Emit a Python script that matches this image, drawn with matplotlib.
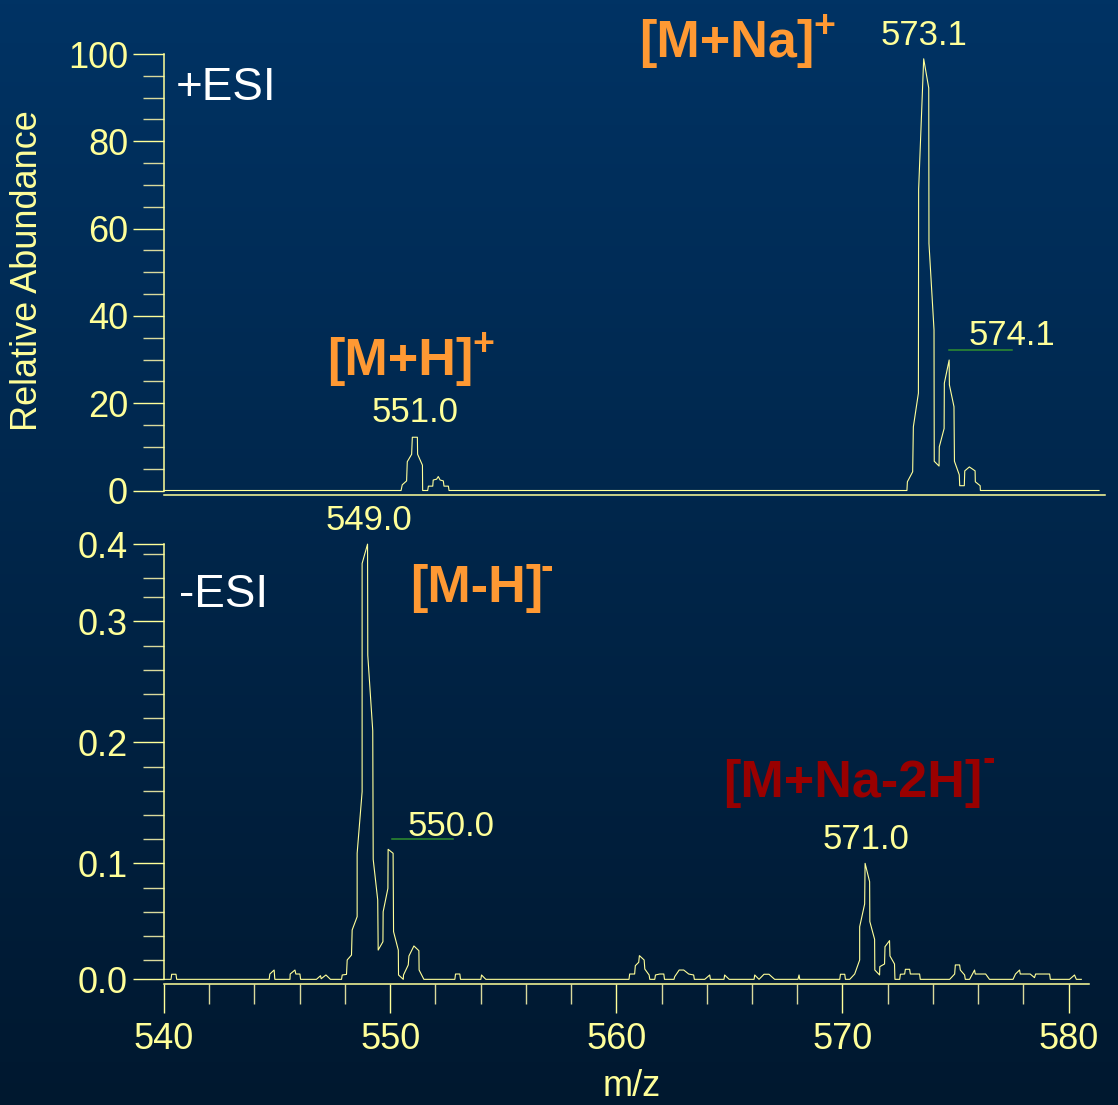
import numpy as np
import matplotlib
matplotlib.use("Agg")
import matplotlib.pyplot as plt
from matplotlib.ticker import FixedLocator, MultipleLocator
from matplotlib.lines import Line2D

# ---------------- data ----------------
# +ESI profile spectrum (m/z, relative abundance %)
pos_mz = [540.00, 550.33, 550.38, 550.57, 550.60, 550.79, 550.82, 551.04, 551.05,
          551.26, 551.27, 551.49, 551.52, 551.71, 551.73, 551.88, 551.95, 552.03,
          552.17, 552.20, 552.39, 552.42,
          572.37, 572.39, 572.62, 572.65, 572.87, 572.88, 573.10, 573.32, 573.33,
          573.55, 573.56, 573.77, 573.78, 573.99, 574.00, 574.21, 574.22, 574.42,
          574.44, 574.65, 574.67, 574.87, 574.89, 575.09, 575.34, 575.35, 575.56,
          575.57, 580.74]
pos_int = [0.0, 0.0, 1.3, 2.2, 6.6, 8.3, 12.2, 12.2, 8.3,
           5.8, 0.0, 0.0, 1.0, 1.0, 2.4, 2.6, 3.2, 2.4,
           2.2, 1.0, 1.0, 0.0,
           0.0, 2.0, 4.3, 14.6, 22.3, 69.0, 98.9, 92.2, 56.6,
           36.8, 6.7, 5.6, 10.0, 14.2, 24.6, 29.9, 24.2, 19.2,
           6.7, 3.6, 1.1, 1.1, 4.5, 5.4, 4.5, 2.0, 1.1,
           0.0, 0.0]

# -ESI profile spectrum (m/z, relative abundance)
neg_mz = [540.00, 540.31, 540.34, 540.53, 540.56,
          544.65, 544.68, 544.87, 544.90,
          545.57, 545.58, 545.79, 545.83, 546.01, 546.04,
          546.74, 546.92, 546.95, 547.16, 547.36,
          547.85, 547.88, 548.07, 548.10, 548.29, 548.32, 548.54, 548.54, 548.76,
          548.76, 549.00, 549.01, 549.23, 549.25, 549.45, 549.47, 549.68, 549.69,
          549.90, 549.91, 550.13, 550.15, 550.36, 550.37, 550.58, 550.59, 550.80,
          550.83, 551.05, 551.27, 551.28, 551.49,
          552.86, 552.89, 553.08, 553.11,
          554.01, 554.04, 554.23,
          560.56, 560.59, 560.81, 560.84, 560.99, 561.02, 561.23, 561.26, 561.45,
          561.48, 561.70, 561.73, 561.92, 562.10, 562.13,
          562.55, 562.58, 562.78, 562.98, 563.20, 563.42, 563.45,
          563.91, 564.13, 564.16,
          564.76, 564.79, 564.99,
          566.09, 566.12, 566.31, 566.53, 566.75, 567.00,
          568.03, 568.08, 568.11,
          569.88, 569.91, 570.10, 570.13, 570.32, 570.54, 570.76, 570.76, 570.98,
          571.00, 571.20, 571.21, 571.42, 571.43, 571.64, 571.65, 571.86, 571.88,
          572.08, 572.10, 572.30, 572.32,
          572.53, 572.56, 572.75, 572.78, 572.97, 573.00, 573.41, 573.44,
          574.74, 574.96, 574.99, 575.18, 575.21, 575.40, 575.43,
          575.62, 575.84, 575.87, 576.33, 576.50,
          577.54, 577.65, 577.83, 577.86, 578.30, 578.49, 578.54, 579.16, 579.19,
          580.04, 580.26, 580.34, 580.56]
neg_int = [0.0041, 0.0041, 0.0083, 0.0083, 0.0041,
           0.0041, 0.0085, 0.0118, 0.0041,
           0.0041, 0.0085, 0.0118, 0.0085, 0.0085, 0.0041,
           0.0041, 0.0071, 0.0046, 0.0077, 0.0041,
           0.0041, 0.0077, 0.0082, 0.0201, 0.0242, 0.0449, 0.0559, 0.1083, 0.1592,
           0.3479, 0.3639, 0.2721, 0.2096, 0.1033, 0.0697, 0.0283, 0.0352, 0.0600,
           0.0793, 0.1116, 0.1083, 0.0435, 0.0283, 0.0077, 0.0041, 0.0077, 0.0160,
           0.0234, 0.0317, 0.0278, 0.0118, 0.0041,
           0.0041, 0.0085, 0.0085, 0.0041,
           0.0041, 0.0077, 0.0041,
           0.0041, 0.0085, 0.0085, 0.0154, 0.0182, 0.0237, 0.0201, 0.0126, 0.0077,
           0.0041, 0.0041, 0.0077, 0.0085, 0.0085, 0.0041,
           0.0041, 0.0063, 0.0118, 0.0118, 0.0085, 0.0077, 0.0041,
           0.0041, 0.0077, 0.0041,
           0.0041, 0.0077, 0.0041,
           0.0041, 0.0077, 0.0041, 0.0083, 0.0083, 0.0041,
           0.0041, 0.0077, 0.0041,
           0.0041, 0.0083, 0.0083, 0.0041, 0.0041, 0.0085, 0.0201, 0.0476, 0.0664,
           0.1000, 0.0848, 0.0518, 0.0372, 0.0118, 0.0077, 0.0146, 0.0168, 0.0311,
           0.0361, 0.0234, 0.0168, 0.0041,
           0.0041, 0.0083, 0.0085, 0.0124, 0.0124, 0.0085, 0.0085, 0.0041,
           0.0041, 0.0085, 0.0160, 0.0160, 0.0118, 0.0077, 0.0041,
           0.0041, 0.0118, 0.0085, 0.0085, 0.0041,
           0.0041, 0.0085, 0.0118, 0.0085, 0.0085, 0.0055, 0.0085, 0.0085, 0.0041,
           0.0041, 0.0077, 0.0041, 0.0041]

# axis ticks
pos_yticks = [0, 20, 40, 60, 80, 100]
neg_yticks = [0.0041, 0.1, 0.2, 0.3, 0.364]
neg_yticklabels = ["0.0", "0.1", "0.2", "0.3", "0.4"]
neg_yminor = [0.02, 0.04, 0.06, 0.08, 0.12, 0.14, 0.16, 0.18, 0.22, 0.24,
              0.26, 0.28, 0.32, 0.336, 0.356]
mz_ticks = [540, 550, 560, 570, 580]

# peak labels: (text, x px, baseline y px)
peak_labels = [("573.1", 924, 45), ("574.1", 1012, 345), ("551.0", 415, 422),
               ("549.0", 369, 530), ("550.0", 451, 836), ("571.0", 866, 849)]

# ---------------- styling ----------------
W, H = 1118, 1105
YEL = "#ffff99"
YEL_MINOR = "#d9d99c"
ORANGE = "#ff9933"
DARKRED = "#990000"
GREEN = "#2f8f2f"

plt.rcParams["font.family"] = ["Liberation Sans", "DejaVu Sans"]

fig = plt.figure(figsize=(W / 100, H / 100), dpi=100)

# vertical background gradient
bg = fig.add_axes([0, 0, 1, 1], zorder=-10)
top_c = np.array([0, 51, 100]) / 255
bot_c = np.array([0, 24, 47]) / 255
t = np.linspace(0, 1, 256)[:, None]
grad = top_c[None, :] * (1 - t) + bot_c[None, :] * t
bg.imshow(grad[:, None, :], aspect="auto", extent=[0, 1, 0, 1])
bg.set_axis_off()


def rect(l, t_, r, b):
    return [l / W, 1 - b / H, (r - l) / W, (b - t_) / H]


def fxy(px, py):
    return px / W, 1 - py / H


ax1 = fig.add_axes(rect(164, 54, 1105, 495))
ax2 = fig.add_axes(rect(164, 544, 1089, 984.3))

for ax in (ax1, ax2):
    ax.set_facecolor("none")
    ax.spines["top"].set_visible(False)
    ax.spines["right"].set_visible(False)
    for s in ("left", "bottom"):
        ax.spines[s].set_color(YEL)
        ax.spines[s].set_linewidth(1.1)
    ax.tick_params(axis="y", which="major", length=22.3, width=1.0, color=YEL,
                   labelcolor=YEL, labelsize=26, pad=3.6)
    ax.tick_params(axis="y", which="minor", length=15, width=1.0, color=YEL_MINOR)

# +ESI panel
ax1.plot(pos_mz, pos_int, color=YEL, lw=0.8, clip_on=False)
ax1.set_xlim(540, 581)
ax1.set_ylim(-1.03, 100)
ax1.spines["left"].set_bounds(0, 100)
ax1.yaxis.set_major_locator(FixedLocator(pos_yticks))
ax1.yaxis.set_minor_locator(MultipleLocator(5))
ax1.tick_params(axis="x", which="both", bottom=False, labelbottom=False)

# -ESI panel
ax2.plot(neg_mz, neg_int, color=YEL, lw=0.8, clip_on=False)
ax2.set_xlim(540, 580.9)
ax2.set_ylim(0, 0.364)
ax2.spines["left"].set_bounds(0.0041, 0.364)
ax2.yaxis.set_major_locator(FixedLocator(neg_yticks))
ax2.set_yticklabels(neg_yticklabels)
ax2.yaxis.set_minor_locator(FixedLocator(neg_yminor))
ax2.xaxis.set_major_locator(FixedLocator(mz_ticks))
ax2.xaxis.set_minor_locator(MultipleLocator(2))
ax2.tick_params(axis="x", which="major", length=20.9, width=1.0, color=YEL,
                labelcolor=YEL, labelsize=26, pad=6.5)
ax2.tick_params(axis="x", which="minor", length=14.4, width=1.0, color=YEL_MINOR)

# axis titles
x, y = fxy(28, 271)
fig.text(x, y, "Relative Abundance", rotation=90, ha="center", va="center",
         color=YEL, fontsize=26)
x, y = fxy(632, 1104)
fig.text(x, y, "m/z", ha="center", va="bottom", color=YEL, fontsize=26)

# ionisation mode labels
x, y = fxy(176, 100)
fig.text(x, y, "+ESI", ha="left", va="baseline", color="white", fontsize=33)
x, y = fxy(179, 607)
fig.text(x, y, "-ESI", ha="left", va="baseline", color="white", fontsize=33)

# peak m/z labels
for txt, px, py in peak_labels:
    x, y = fxy(px, py)
    fig.text(x, y, txt, ha="center", va="baseline", color=YEL, fontsize=25)

# underline marks next to isotope labels
for (x0, x1, yy) in [(949, 1012, 350), (392, 453, 839)]:
    a, b = fxy(x0, yy)
    c, _ = fxy(x1, yy)
    fig.add_artist(Line2D([a, c], [b, b], color=GREEN, lw=1.1,
                          transform=fig.transFigure))

# ion assignments
ions = [("[M+Na]", "+", 639, 57, 813, 37, ORANGE),
        ("[M+H]", "+", 327, 375, 472, 355, ORANGE),
        ("[M-H]", "-", 410, 602, 541, 579, ORANGE),
        ("[M+Na-2H]", "-", 723, 797, 983, 771, DARKRED)]
for main, sup, px, py, sx, sy, col in ions:
    x, y = fxy(px, py)
    fig.text(x, y, main, ha="left", va="baseline", color=col, fontsize=37.5,
             fontweight="bold")
    x, y = fxy(sx, sy)
    fig.text(x, y, sup, ha="left", va="baseline", color=col, fontsize=27,
             fontweight="bold")

fig.savefig("out.png", dpi=100)
